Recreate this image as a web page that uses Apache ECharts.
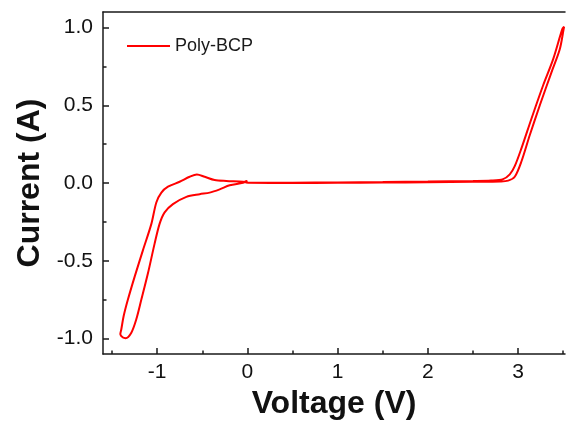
<!DOCTYPE html>
<html>
<head>
<meta charset="utf-8">
<script src="https://cdn.jsdelivr.net/npm/echarts@6/dist/echarts.min.js"></script>
<style>
  html, body { margin: 0; padding: 0; background: #fff; }
  #chart { width: 566px; height: 425px; }
</style>
</head>
<body>
<div id="chart"></div>
<script>
// cyclic voltammogram, one closed loop
const voltage = [
  0.00, 0.50, 1.00, 1.50, 2.00, 2.50, 2.80, 2.89, 2.963, 3.038, 3.13, 3.241, 3.37, 3.462, 3.505, 3.51,
  3.49, 3.388, 3.277, 3.149, 3.038, 2.963, 2.908, 2.834, 2.70, 2.50, 2.00, 1.50, 1.00, 0.50, 0.00, -0.01,
  -0.049, -0.196, -0.307, -0.418, -0.529, -0.676, -0.825, -0.917, -0.973, -1.028, -1.102, -1.175, -1.231, -1.286, -1.349,
  -1.379, -1.408, -1.397, -1.371, -1.324, -1.249, -1.157, -1.064, -1.009, -0.953, -0.88, -0.751, -0.64, -0.559,
  -0.473, -0.363, -0.233, -0.049, 0.00
]
const current = [
  0.000, 0.000, 0.001, 0.003, 0.005, 0.008, 0.010, 0.015, 0.040, 0.140, 0.309, 0.500, 0.712, 0.860, 0.990, 1.005,
  0.990, 0.795, 0.627, 0.415, 0.224, 0.108, 0.055, 0.025, 0.016, 0.013, 0.009, 0.006, 0.004, 0.002, 0.003, 0.013,
  0.002, -0.015, -0.041, -0.062, -0.072, -0.089, -0.136, -0.189, -0.263, -0.390, -0.581, -0.750, -0.877, -0.963, -0.998,
  -0.994, -0.973, -0.941, -0.856, -0.750, -0.602, -0.432, -0.263, -0.125, -0.062, -0.024, 0.008, 0.040, 0.055,
  0.040, 0.019, 0.013, 0.008, 0.002
]
const seriesName = 'Poly-BCP'

const xTicks = [-1, 0, 1, 2, 3]
const xMinorTicks = [-1.5, -0.5, 0.5, 1.5, 2.5, 3.5]
const yTicks = [-1, -0.5, 0, 0.5, 1]
const yMinorTicks = [-0.75, -0.25, 0.25, 0.75]

const xMin = -1.6, xMax = 3.52
const yMin = -1.1, yMax = 1.1

let points = []
for (let i = 0; i < voltage.length; i++) {
  points.push([voltage[i], current[i]])
}

const axisColor = '#1a1a1a'
const font = 'Arial, "Liberation Sans", sans-serif'

let myChart = echarts.init(document.getElementById('chart'))
let option = {
  animation: false,
  backgroundColor: '#fff',
  grid: { left: 103, right: 1, top: 12, bottom: 67 },
  legend: {
    data: [seriesName],
    left: 127,
    top: 37,
    padding: 0,
    itemWidth: 43,
    itemHeight: 2,
    icon: 'rect',
    textStyle: { fontFamily: font, fontSize: 18, color: '#1a1a1a' }
  },
  xAxis: [
    {
      type: 'value', min: xMin, max: xMax, position: 'bottom',
      name: 'Voltage (V)', nameLocation: 'middle', nameGap: 34,
      nameTextStyle: { fontFamily: font, fontSize: 32, fontWeight: 'bold', color: '#111' },
      axisLine: { onZero: false, lineStyle: { color: axisColor, width: 1.5 } },
      axisTick: { inside: true, length: 6, customValues: xTicks, lineStyle: { color: axisColor, width: 1.5 } },
      axisLabel: { customValues: xTicks, margin: 8, fontFamily: font, fontSize: 21, color: '#111' },
      splitLine: { show: false }
    },
    {
      type: 'value', min: xMin, max: xMax, position: 'bottom',
      axisLine: { show: false, onZero: false },
      axisTick: { inside: true, length: 3.5, customValues: xMinorTicks, lineStyle: { color: axisColor, width: 1.5 } },
      axisLabel: { show: false },
      splitLine: { show: false }
    },
    {
      type: 'value', min: xMin, max: xMax, position: 'top',
      axisLine: { onZero: false, lineStyle: { color: axisColor, width: 1.5 } },
      axisTick: { show: false },
      axisLabel: { show: false },
      splitLine: { show: false }
    }
  ],
  yAxis: [
    {
      type: 'value', min: yMin, max: yMax, position: 'left',
      name: 'Current (A)', nameLocation: 'middle', nameGap: 52, nameRotate: 90,
      nameTextStyle: { fontFamily: font, fontSize: 32, fontWeight: 'bold', color: '#111' },
      axisLine: { show: true, onZero: false, lineStyle: { color: axisColor, width: 1.5 } },
      axisTick: { show: true, inside: true, length: 6, customValues: yTicks, lineStyle: { color: axisColor, width: 1.5 } },
      axisLabel: {
        customValues: yTicks, margin: 10, fontFamily: font, fontSize: 21, color: '#111',
        formatter: v => v.toFixed(1)
      },
      splitLine: { show: false }
    },
    {
      type: 'value', min: yMin, max: yMax, position: 'left',
      axisLine: { show: false, onZero: false },
      axisTick: { show: true, inside: true, length: 3.5, customValues: yMinorTicks, lineStyle: { color: axisColor, width: 1.5 } },
      axisLabel: { show: false },
      splitLine: { show: false }
    }
  ],
  series: [
    {
      name: seriesName,
      type: 'line',
      data: points,
      symbol: 'none',
      smooth: 0.3,
      lineStyle: { color: '#ff0000', width: 2 },
      itemStyle: { color: '#ff0000' }
    }
  ]
}
myChart.setOption(option)
</script>
</body>
</html>
